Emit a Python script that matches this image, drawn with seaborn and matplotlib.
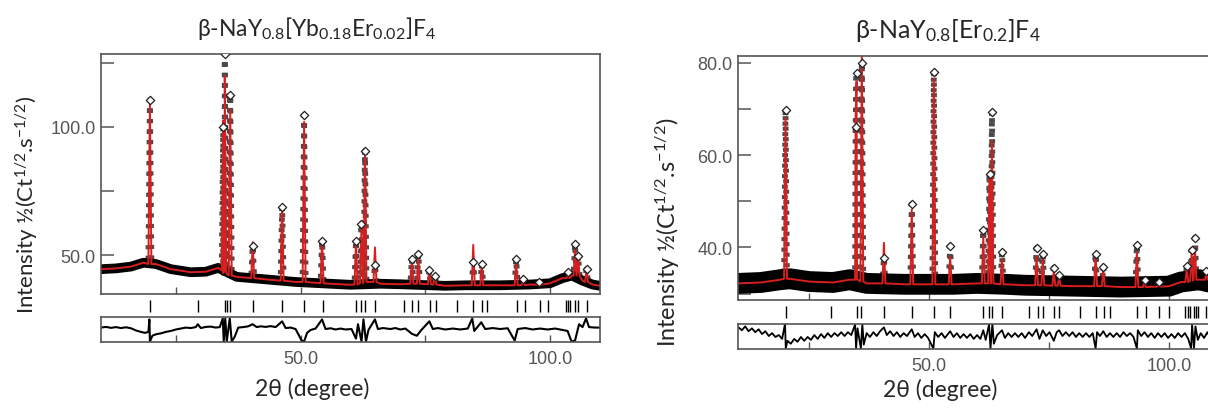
import numpy as np
import matplotlib
matplotlib.use('Agg')
import matplotlib.pyplot as plt
import seaborn as sns

# Rietveld fits of two beta-NaYF4 samples
# left: beta-NaY0.8[Yb0.18Er0.02]F4
yb_peak_pos = [19.8, 34.5, 34.8, 35.9, 40.4, 46.3, 50.7, 54.3, 61.1, 62.2, 62.9, 64.9, 72.3,
               73.6, 75.8, 76.9, 84.6, 86.3, 93.2, 94.6, 97.8, 103.6, 105.0, 105.6, 107.3]
yb_calc_top = [110, 102.5, 120, 107, 55, 69, 102, 55.6, 55, 61, 90.2, 53, 48,
               48.5, 45, 42, 54, 46, 47, 41, 39.5, 43, 52, 49, 44.5]
yb_obs_top = [110.5, 100, 128.5, 112.5, 53.6, 68.8, 104.7, 55.6, 55.6, 62, 90.7, 46, 48.4,
              50.4, 44, 41.8, 47.3, 46.5, 48.4, 40.6, 39.3, 43.4, 54.3, 49.7, 44.5]
yb_peak_base = [46.5, 44, 43, 42, 41, 40, 39.5, 39, 38.5, 39, 39.5, 39.5, 38.8,
                38.8, 38.6, 38.5, 38.2, 38.2, 38.2, 38.3, 38.4, 41, 42, 42, 39.5]
yb_bg_x = [10, 13, 16, 18.5, 21, 24, 28, 31, 33.5, 37.2, 42.5, 49, 55, 60, 66, 70, 79,
           83, 90, 96, 100, 102.5, 104.4, 106.5, 108.5, 110]
yb_bg_y = [44.5, 44.8, 45.5, 47, 46.5, 44.5, 43.3, 43.5, 45, 41.5, 40.6, 39.5, 38.9, 38.4,
           38.8, 38.6, 38.0, 38.2, 38.2, 38.5, 39, 41, 42, 40, 38.5, 38]
yb_hkl = [19.9, 29.4, 34.8, 35.2, 35.9, 40.4, 46.3, 50.7, 54.4, 61.1, 62.2, 62.9, 64.9,
          70.7, 72.3, 73.6, 75.9, 77.1, 81.3, 84.6, 86.3, 87.3, 93.3, 95.0, 98.0, 99.6,
          103.1, 103.6, 104.0, 105.0, 105.5, 107.3]
yb_diff = [(10, 1.5), (11, 2.2), (12, 1.2), (13, 2.0), (14, 1.0), (15, 1.8), (16, 0.8),
           (17, -1.5), (18, -3.0), (18.8, -4.0), (19.5, -3.0), (19.7, 10), (19.8, -13),
           (20.3, -7), (21, -5.5), (22, -4.5), (23, -3), (24, -2), (25, -0.5), (26, 0.5),
           (27, 1.5), (28, 1.0), (29, 2.0), (29.4, 5), (30, 1.0), (31, 2.2), (32, 2.5),
           (33, 1.5), (33.8, 2.0), (34.4, 11), (34.6, -13), (34.9, 11), (35.2, -13),
           (35.8, 11), (36.2, -13), (36.8, -8), (37.5, 1.5), (38.5, 2.0), (39.5, 2.8),
           (40.4, 5), (41.2, 2.0), (42, 2.8), (43, 2.2), (44, 3.0), (45, 2.0), (46.3, 8),
           (47, 1.0), (48, 1.5), (49, 0), (50.2, -12), (50.7, -13), (51.3, -4), (52, -1),
           (53, 0.5), (54.3, 10), (55, 0), (56, 0.8), (57, -0.5), (58, 0.5), (59, -0.5),
           (60.2, 0), (61.1, -10), (61.5, 5), (62.2, -13), (62.6, 10), (63.1, -13),
           (63.6, -1), (64.9, 10), (65.5, 0), (66.5, 1.0), (68, 0), (69, 1.0), (70, -0.5),
           (71, 0.5), (72.3, -5), (73.3, -7), (74.2, -1), (75.8, 8), (76.5, 0), (77.5, 1),
           (79, -0.5), (80.5, 0.5), (82, -0.5), (83.5, 0.5), (84.4, 11), (84.8, -2),
           (86.2, 7), (87, 0), (88.5, 1), (90, 0), (91.5, 0.8), (92.9, -12), (93.5, 0),
           (95, 1.0), (96.5, -0.5), (98, 0.5), (99.5, -0.5), (101, 0.5), (102.5, -1),
           (103.5, -2), (104.3, -13), (105, -12), (105.8, 5), (106.5, 2), (107.2, 11),
           (107.8, 2), (109, 1.5), (110, 1.5)]

# right: beta-NaY0.8[Er0.2]F4
er_peak_pos = [20.1, 34.7, 34.9, 36.0, 40.6, 46.4, 51.0, 54.4, 61.3, 62.6, 63.1, 65.2, 72.4,
               73.7, 76.0, 77.1, 84.7, 86.3, 93.3, 94.9, 97.9, 103.7, 104.7, 105.4, 107.8]
er_calc_top = [68.0, 68.4, 76.0, 82, 41.0, 48.2, 76.5, 38.1, 42.4, 56.5, 63.0, 37.4, 38.1,
               37.5, 35, 33.5, 38.5, 35.5, 38.9, 32.9, 32.4, 35.5, 39, 40, 34.5]
er_obs_top = [69.7, 66, 77.8, 80, 37.8, 49.4, 78.1, 40.3, 43.7, 56, 69.4, 38.9, 39.9,
              38.5, 35.6, 34.0, 38.6, 35.8, 40.6, 32.9, 32.4, 36, 39.4, 42.1, 34.9]
er_peak_base = [33.2, 33, 33, 32.6, 32.2, 32, 32, 32, 32.2, 32.2, 32.2, 32, 31.8,
                31.8, 31.7, 31.7, 31.6, 31.6, 31.4, 31.4, 31.5, 32.5, 32.8, 33, 33]
er_bg_x = [10.2, 15, 19, 21, 25, 30, 33.5, 37, 45, 55, 60, 66, 70, 80, 90, 100, 102.5,
           106.3, 110.2]
er_bg_y = [32.2, 32.4, 33, 33.2, 32.6, 32.4, 33.0, 32.2, 32.0, 32.0, 32.2, 32.0, 31.8,
           31.6, 31.4, 31.6, 32.5, 33, 32]
er_hkl = [20.1, 29.6, 35.0, 35.8, 40.6, 46.5, 51.0, 54.4, 61.3, 62.4, 63.2, 65.2, 70.8,
          72.6, 73.7, 76.0, 77.1, 81.5, 84.8, 86.4, 87.8, 93.3, 95.3, 98.0, 99.9, 103.4,
          104.0, 104.4, 105.1, 105.7, 106.1, 107.8, 108.5]
er_diff = [(10.3, 9), (11, 6), (11.7, 10), (12.4, 5), (13.1, 8), (13.8, 4), (14.5, 7),
           (15.2, 2), (15.9, 5), (16.6, 0), (17.3, 3), (18, -1), (18.7, 1), (19.4, -3),
           (20.0, 13), (20.15, -13), (20.5, -5), (21.2, -8), (21.9, -3), (22.6, -6),
           (23.3, -1), (24, -5), (24.7, -1), (25.4, -4), (26.1, 1), (26.8, -3), (27.5, 2),
           (28.2, -2), (28.9, 3), (29.6, -1), (30.3, 3), (31, 0), (31.7, 4), (32.4, 0),
           (33.1, 4), (33.8, 1), (34.6, 12), (34.8, -13), (35.1, 8), (35.8, -13),
           (36.1, 13), (36.4, -9), (37, 3), (37.7, -1), (38.4, 4), (39.1, 0), (39.8, 5),
           (40.6, 9), (41.2, 1), (41.9, 5), (42.6, 0), (43.3, 4), (44, -1), (44.7, 3),
           (45.4, 0), (46.4, 7), (47, -1), (47.7, 3), (48.4, -2), (49.1, 2), (49.8, -2),
           (50.9, -13), (51.2, 4), (51.9, -1), (52.6, 3), (53.3, -2), (54.4, 5),
           (55.1, -1), (55.8, 3), (56.5, -2), (57.2, 2), (57.9, -2), (58.6, 2), (59.3, -3),
           (60, 1), (60.7, -3), (61.3, 6), (61.8, -4), (62.5, 12), (62.8, -13), (63.2, 13),
           (63.5, -8), (64.2, 1), (65.2, 6), (65.8, -2), (66.5, 3), (67.2, -1), (67.9, 3),
           (68.6, -1), (69.3, 3), (70, -2), (70.8, 4), (71.5, 0), (72.4, 7), (73, -3),
           (73.7, 6), (74.4, 0), (75.1, 4), (76, -5), (76.6, 4), (77.1, 6), (77.8, 0),
           (78.5, 4), (79.2, 0), (79.9, 4), (80.6, -1), (81.3, 3), (82, -1), (82.7, 3),
           (83.4, -1), (84.1, 3), (84.7, -13), (85, 4), (85.6, 0), (86.3, 5), (87, -1),
           (87.7, 3), (88.4, -1), (89.1, 3), (89.8, -1), (90.5, 4), (91.2, 0), (91.9, 3),
           (92.6, -1), (93.3, -13), (93.5, 6), (94.2, 0), (94.9, 4), (95.6, -1), (96.3, 3),
           (97, -2), (97.7, 3), (98.4, -1), (99.1, 3), (99.8, -2), (100.5, 2), (101.2, -2),
           (101.9, 3), (102.6, -1), (103.3, 3), (104, -3), (104.6, -13), (104.8, 12),
           (105.2, -13), (105.5, 10), (106, -4), (106.6, 3), (107.3, -2), (108, 4),
           (108.7, -3), (109.4, 2), (110.2, 0)]

sns.set_theme(style='white')
plt.rcParams['font.family'] = ['Lato', 'DejaVu Sans']
plt.rcParams['mathtext.default'] = 'regular'

RED = '#d81e1e'
GREY = '#555555'
W, H = 1208, 410


def box(x0, y0, x1, y1):
    # pixel box (top-left origin) -> figure fraction rect
    return [x0 / W, 1 - y1 / H, (x1 - x0) / W, (y1 - y0) / H]


def profile(bg_x, bg_y, pos, top, base, hw):
    xs = list(bg_x)
    ys = list(bg_y)
    for p, t, b in zip(pos, top, base):
        xs += [p - hw, p, p + hw]
        ys += [b, t, b]
    order = np.argsort(xs, kind='stable')
    return np.array(xs)[order], np.array(ys)[order]


def style_frame(ax):
    for s in ax.spines.values():
        s.set_color(GREY)
        s.set_linewidth(1.2)


def draw_panel(fig, rects, xlim, ylim, yticks, yminor, data, band_lw, res_lw,
               title, tsize, tpos, ylsize, ylpos, xlpos):
    r_main, r_hkl, r_res = rects
    pos, calc_top, obs_top, base, bg_x, bg_y, hkl, diff = data

    ax = fig.add_axes(box(*r_main))
    ox, oy = profile(bg_x, bg_y, pos, obs_top, base, 0.3)
    cx, cy = profile(bg_x, bg_y, pos, calc_top, base, 0.3)
    # observed points stacked along the peaks
    ax.plot(ox, oy, color='#4a4a4a', lw=4.2, dashes=(0.7, 1.1))
    # noisy observed background band
    ax.plot(bg_x, bg_y, color='black', lw=band_lw, solid_joinstyle='round')
    sns.lineplot(x=cx, y=cy, color=RED, lw=1.4, sort=False, estimator=None, ax=ax)
    sns.scatterplot(x=pos, y=obs_top, marker='D', s=18, color='white',
                    edgecolor='#222222', linewidth=0.9, ax=ax, zorder=5)
    ax.set_xlim(*xlim)
    ax.set_ylim(*ylim)
    ax.set_yticks(yticks)
    ax.set_yticklabels([f'{v:.1f}' for v in yticks])
    ax.set_yticks(yminor, minor=True)
    ax.set_xticks([50, 100])
    ax.set_xticks([25, 75], minor=True)
    ax.set_xticklabels([])
    ax.tick_params(axis='y', which='both', direction='in', length=9, width=1.1,
                   color=GREY, labelsize=13, labelcolor=GREY, pad=4, left=True,
                   labelfontfamily='Liberation Sans')
    ax.tick_params(axis='x', which='both', direction='in', length=5, width=1.0,
                   color=GREY, bottom=True)
    style_frame(ax)

    ah = fig.add_axes(box(*r_hkl))
    ah.plot(hkl, np.zeros(len(hkl)), ls='none', marker='|', ms=9, mew=1.0, color='black')
    ah.set_xlim(*xlim)
    ah.set_ylim(-1, 1)
    ah.axis('off')

    ar = fig.add_axes(box(*r_res))
    dx, dy = zip(*diff)
    sns.lineplot(x=list(dx), y=list(dy), color='black', lw=res_lw, sort=False,
                 estimator=None, ax=ar)
    ar.set_xlim(*xlim)
    ar.set_ylim(-13.5, 12.5)
    ar.set_yticks([])
    ar.set_xticks([50, 100])
    ar.set_xticklabels(['50.0', '100.0'])
    ar.set_xticks([25, 75], minor=True)
    ar.tick_params(axis='x', which='both', direction='in', length=5, width=1.0,
                   color=GREY, labelsize=13, labelcolor=GREY, pad=6, bottom=True,
                   labelfontfamily='Liberation Sans')
    style_frame(ar)

    fig.text(tpos[0] / W, 1 - tpos[1] / H, title, ha='center', va='center', fontsize=tsize)
    fig.text(ylpos[0] / W, 1 - ylpos[1] / H,
             'Intensity ½(Ct$^{1/2}$.s$^{-1/2}$)', rotation=90,
             ha='center', va='center', fontsize=ylsize)
    fig.text(xlpos[0] / W, 1 - xlpos[1] / H, '2θ (degree)', ha='center', va='center',
             fontsize=16.5)


fig = plt.figure(figsize=(W / 100, H / 100), dpi=100)

draw_panel(fig,
           [(101, 55, 600, 295), (101, 297, 600, 317), (101, 318, 600, 343)],
           (10, 110), (34.8, 128.5), [50, 100], [75, 125],
           (yb_peak_pos, yb_calc_top, yb_obs_top, yb_peak_base, yb_bg_x, yb_bg_y, yb_hkl, yb_diff),
           7, 1.5, r'β-NaY$_{0.8}$[Yb$_{0.18}$Er$_{0.02}$]F$_4$', 16.5,
           (317, 28), 16, (27, 205), (312, 389))

draw_panel(fig,
           [(738, 57, 1218, 301), (738, 303, 1218, 323), (738, 325, 1218, 350)],
           (10.2, 110.2), (28.6, 81.5), [40, 60, 80], [30, 50, 70],
           (er_peak_pos, er_calc_top, er_obs_top, er_peak_base, er_bg_x, er_bg_y, er_hkl, er_diff),
           15, 1.3, r'β-NaY$_{0.8}$[Er$_{0.2}$]F$_4$', 18,
           (948, 31), 16.8, (668, 232), (940, 390))

fig.savefig('out.png', dpi=100)
